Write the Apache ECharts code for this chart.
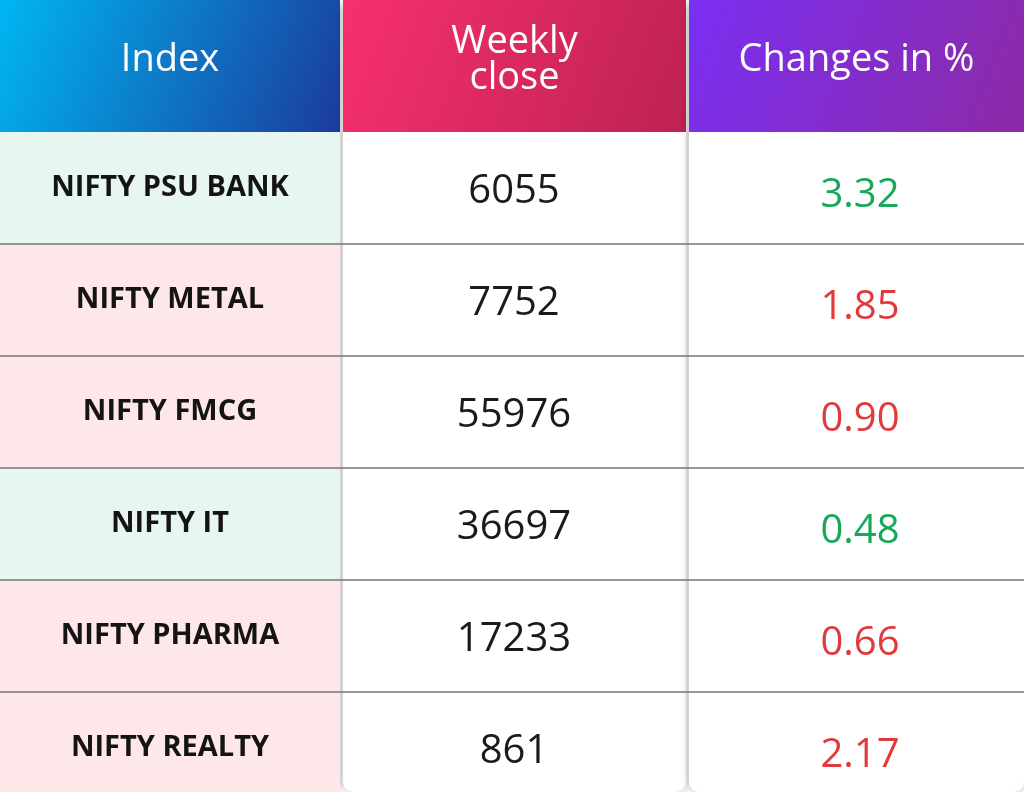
<!DOCTYPE html>
<html><head><meta charset="utf-8">
<script src="https://cdn.jsdelivr.net/npm/echarts@6/dist/echarts.min.js"></script>
<style>html,body{margin:0;padding:0;background:#fff}#main{width:1024px;height:792px}</style>
</head><body><div id="main"></div>
<script>
var headers = ['Index', 'Weekly\nclose', 'Changes in %'];
var indices = ['NIFTY PSU BANK', 'NIFTY METAL', 'NIFTY FMCG', 'NIFTY IT', 'NIFTY PHARMA', 'NIFTY REALTY'];
var closes = ['6055', '7752', '55976', '36697', '17233', '861'];
var changes = ['3.32', '1.85', '0.90', '0.48', '0.66', '2.17'];
var positive = [true, false, false, true, false, false];

var myChart = echarts.init(document.getElementById('main'));
var cols = [[0, 340], [343, 686], [689, 1024]];
var headH = 132, rowH = 112;
var grads = [['#00b6f2', '#1b3b9c'], ['#f7306f', '#bd2250'], ['#7a2ff2', '#8c2aa6']];
var els = [];

cols.forEach(function (c, i) {
	els.push({ type: 'rect', shape: { x: c[0], y: 0, width: c[1] - c[0], height: 792, r: 10 },
		style: { fill: '#fff', shadowBlur: 8, shadowColor: 'rgba(0,0,0,0.25)' } });
	els.push({ type: 'rect', shape: { x: c[0], y: 0, width: c[1] - c[0], height: headH },
		style: { fill: new echarts.graphic.LinearGradient(0, 0, 1, 1, [
			{ offset: 0, color: grads[i][0] }, { offset: 1, color: grads[i][1] }]) } });
	els.push({ type: 'text', x: (c[0] + c[1]) / 2, y: headH / 2 - 6,
		style: { text: headers[i], fill: '#fff', font: '500 38px "Open Sans"', align: 'center',
			verticalAlign: 'middle', lineHeight: 36 } });
});

indices.forEach(function (name, r) {
	var y = headH + r * rowH;
	var h = r === indices.length - 1 ? 792 - y : rowH;
	els.push({ type: 'rect', shape: { x: 0, y: y, width: 340, height: h },
		style: { fill: positive[r] ? '#e7f6f0' : '#fde7e8' } });
	els.push({ type: 'text', x: 170, y: y + 56,
		style: { text: name, fill: '#141414', font: 'bold 29px "Open Sans"', align: 'center', verticalAlign: 'middle' } });
	els.push({ type: 'text', x: 514, y: y + 60,
		style: { text: closes[r], fill: '#1a1a1a', font: '40px "Open Sans"', align: 'center', verticalAlign: 'middle' } });
	els.push({ type: 'text', x: 860, y: y + 64,
		style: { text: changes[r], fill: positive[r] ? '#17a85a' : '#e23a3a', font: '40px "Open Sans"', align: 'center', verticalAlign: 'middle' } });
	if (r > 0) {
		els.push({ type: 'line', shape: { x1: 0, y1: y, x2: 1024, y2: y }, style: { stroke: '#777', lineWidth: 1.5 } });
	}
});

myChart.setOption({ graphic: { elements: els } });
</script></body></html>
